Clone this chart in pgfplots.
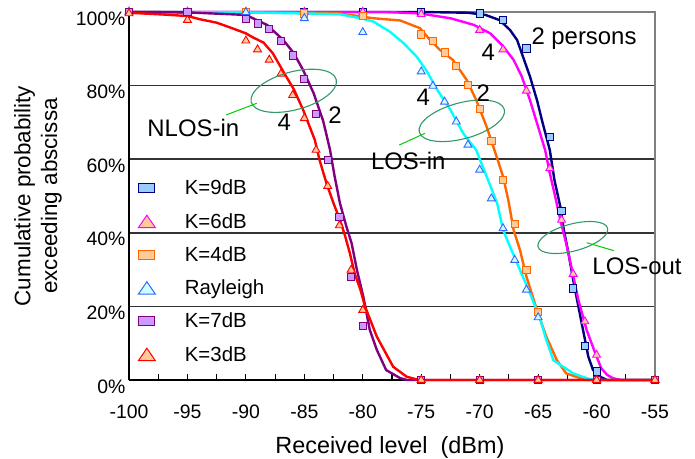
\documentclass[border=0pt]{standalone}
\usepackage{fontspec}
\setmainfont{Liberation Sans}
\usepackage{pgfplots}
\pgfplotsset{compat=1.18}

\definecolor{cNavy}{HTML}{000080}
\definecolor{cMag}{HTML}{FF00FF}
\definecolor{cOrange}{HTML}{FF6600}
\definecolor{cCyan}{HTML}{00FFFF}
\definecolor{cPurple}{HTML}{800080}
\definecolor{cRed}{HTML}{FF0000}
\definecolor{cBlue}{HTML}{3366FF}
\definecolor{fBlue}{HTML}{99CCFF}
\definecolor{fPeach}{HTML}{FFCC99}
\definecolor{fCyan}{HTML}{CCFFFF}
\definecolor{fLilac}{HTML}{CC99FF}
\definecolor{cEll}{HTML}{339966}
\definecolor{cLead}{HTML}{00CC00}

\pgfplotsset{
  meas/.style={no marks, line width=2.4bp, forget plot},
  sqmark/.style 2 args={only marks, mark=square*, mark size=3.6bp,
    mark options={draw=#1, fill=#2, line width=0.9bp, solid},
    legend image code/.code={\draw[draw=#1, fill=#2, line width=1bp] (0bp,-4.5bp) rectangle (16bp,4.5bp);}},
  trimark/.style 2 args={only marks, mark=triangle*, mark size=4.6bp,
    mark options={draw=#1, fill=#2, line width=0.9bp, solid},
    legend image code/.code={\draw[draw=#1, fill=#2, line width=1bp] (0bp,-6bp) -- (17bp,-6bp) -- (8.5bp,6.5bp) -- cycle;}},
}

\begin{document}
\begin{tikzpicture}
\useasboundingbox (-129bp,-79bp) rectangle (566bp,380bp);
\begin{axis}[
  at={(0,0)}, anchor=south west,
  scale only axis, width=526bp, height=368bp,
  xmin=-100, xmax=-55, ymin=0, ymax=100,
  clip=false,
  axis x line*=bottom, axis y line*=left,
  axis line style={black, line width=1.7bp},
  xtick={-100,-95,...,-55},
  minor xtick={-97.5,-92.5,...,-57.5},
  tick align=inside,
  major tick length=6bp, minor tick length=6bp,
  xtick style={black, line width=1.2bp},
  ytick={20,40,60,80},
  extra y ticks={0,100},
  extra y tick style={grid=none},
  ytick style={draw=none},
  ymajorgrids,
  grid style={black!80, line width=1.6bp},
  yticklabel={\pgfmathprintnumber{\tick}\%},
  /pgf/number format/assume math mode=true,
  ticklabel style={font=\fontsize{19.5}{22}\selectfont},
  xticklabel style={anchor=base, yshift=-38bp},
  yticklabel style={yshift=-6.5bp},
  xlabel={Received level\ \ (dBm)},
  xlabel style={at={(axis description cs:0.496,-0.1984)}, anchor=base, font=\fontsize{23.5}{26}\selectfont},
  ylabel={Cumulative probability\\exceeding abscissa},
  ylabel style={at={(axis description cs:-0.173,0.5)}, anchor=center, align=center, font=\fontsize{22.5}{27}\selectfont},
  legend cell align=left,
  legend style={at={(axis description cs:0.0165,0.5394)}, anchor=north west,
    draw=none, fill=none, inner sep=0pt, row sep=20bp, column sep=29bp,
    nodes={inner sep=0pt, text height=13bp, text depth=0bp, font=\fontsize{20.5}{22}\selectfont}},
]
\draw[gray, line width=1.5bp] (rel axis cs:0,1) -- (rel axis cs:1,1) -- (rel axis cs:1,0);

% measured curves
\addplot[meas, cNavy] coordinates {
(-100,100) (-75,100) (-71,99.8) (-70.5,99.6) (-69.5,99.2) (-68.3,97.8) (-67.4,95.1)
(-66.8,92.4) (-66.3,87.9) (-65.7,82.5) (-65.1,76.1) (-64.6,69.7) (-64.0,62.5) (-63.6,54.3)
(-63.1,47.1) (-62.8,40.8) (-62.4,34.4) (-62.0,27.2) (-61.55,19.9) (-61.1,12.7) (-60.7,6.3)
(-60.3,2.7) (-59.7,0.9) (-59.1,0) (-55,0)};
\addplot[meas, cMag] coordinates {
(-100,100) (-78,100) (-75.1,99.6) (-72.5,98.3) (-70.5,96.5) (-69.1,94.2) (-68.0,90.7)
(-67.1,87.0) (-66.4,82.5) (-65.7,76.1) (-65.0,68.8) (-64.4,62.5) (-64.0,56.2) (-63.6,50.7)
(-63.1,43.5) (-62.6,37.1) (-62.1,29.9) (-61.55,21.7) (-60.85,13.6) (-60.1,7.2) (-59.6,3.2)
(-59.1,1.4) (-58.6,0.5) (-57.9,0) (-55,0)};
\addplot[meas, cOrange] coordinates {
(-100,100) (-85,99.8) (-82,99.6) (-79.1,98.3) (-76.8,97.7) (-75.1,95.6) (-74.25,92.4)
(-73.4,89.7) (-72.3,87.0) (-71.1,81.5) (-70.3,76.1) (-69.4,68.8) (-68.55,60.7) (-68.0,55.3)
(-67.55,48.9) (-67.1,40.8) (-66.55,35.3) (-66.0,28.1) (-65.1,19.0) (-64.3,11.8) (-63.4,5.4)
(-62.6,1.8) (-61.4,0.5) (-60.7,0) (-55,0)};
\addplot[meas, cCyan] coordinates {
(-100,100) (-90,99.9) (-85,99.6) (-82,99.4) (-80,98.2) (-79.1,97.4) (-77.7,94.7) (-76.5,91.5)
(-75.4,87.9) (-74.5,83.8) (-73.7,79.2) (-72.5,73.4) (-71.4,67.0) (-70.3,62.5) (-69.4,55.3)
(-68.5,48.0) (-68.0,40.8) (-67.4,36.2) (-66.55,29.9) (-65.7,23.6) (-64.8,16.3) (-64.3,10.9)
(-63.7,5.4) (-63.1,4.1) (-62.0,1.8) (-60.85,0.5) (-60.2,0) (-55,0)};
\addplot[meas, cPurple] coordinates {
(-100,100) (-95,99.9) (-90,99.2) (-88.2,96.5) (-86.8,92.4) (-85.9,88.8) (-85.1,84.2)
(-84.2,77.9) (-83.4,70.5) (-83.2,67.9) (-82.8,62.5) (-82.4,55.2) (-81.95,48.0) (-81.4,41.7)
(-80.95,37.1) (-80.5,29.9) (-79.95,22.6) (-79.4,13.6) (-78.8,8.2) (-78.0,2.7) (-76.8,0.5)
(-76.2,0) (-55,0)};
\addplot[meas, cRed] coordinates {
(-100,99.8) (-97,99.3) (-95,98.9) (-93.9,98.0) (-92.5,97.1) (-91.1,95.5) (-90,94.2)
(-89.4,93.1) (-88.5,91.7) (-87.7,88.8) (-86.8,83.8) (-85.9,79) (-85.1,73.4) (-84.1,65.2)
(-83.7,59.8) (-83.1,53.4) (-82.5,48) (-81.95,43.5) (-81.5,39) (-81.1,34.4) (-80.7,29)
(-80.2,24.5) (-79.8,19.9) (-78.8,11.8) (-77.4,3.6) (-76.25,0.9) (-75.2,0) (-55,0)};

% theoretical points
\addplot[sqmark={cNavy}{fBlue}] coordinates {
(-100,100) (-95,100) (-90,100) (-85,100) (-80,100) (-75,100) (-70,99.6) (-68,97.8)
(-66,90.1) (-64,66.1) (-63,45.9) (-62,24.9) (-61,9.2) (-60,2.3) (-55,0)};
\addlegendentry{K=9dB}
\addplot[trimark={cMag}{fPeach}] coordinates {
(-100,100) (-95,100) (-90,100) (-85,100) (-80,100) (-75,99.4) (-70,95.1) (-68,89.8)
(-66,78.6) (-64,57.5) (-63,43.5) (-62,28.8) (-61,15.9) (-60,6.8) (-55,0)};
\addlegendentry{K=6dB}
\addplot[sqmark={cOrange}{fPeach}] coordinates {
(-100,100) (-95,100) (-90,100) (-85,99.6) (-80,98.9) (-75,93.9) (-74,92.2) (-73,89.0)
(-72,85.3) (-71,80.2) (-70,73.6) (-69,65.0) (-68,54.3) (-67,42.4) (-66,29.9) (-65,18.4)
(-60,0) (-55,0)};
\addlegendentry{K=4dB}
\addplot[trimark={cBlue}{fCyan}] coordinates {
(-100,100) (-95,100) (-90,99.9) (-85,98.3) (-80,94.5) (-75,83.8) (-74,79.9) (-73,75.6)
(-72,70.2) (-71,63.9) (-70,57.1) (-69,49.3) (-68,41.2) (-67,32.6) (-66,24.5) (-65,17.0)
(-60,0) (-55,0)};
\addlegendentry{Rayleigh}
\addplot[sqmark={cPurple}{fLilac}] coordinates {
(-100,100) (-95,100) (-90,98.1) (-89,96.9) (-88,95.3) (-87,92.2) (-86,88.2) (-85,81.7)
(-84,72.2) (-83,59.7) (-82,44.4) (-81,28.1) (-80,14.7) (-75,0) (-70,0) (-65,0) (-60,0) (-55,0)};
\addlegendentry{K=7dB}
\addplot[trimark={cRed}{fPeach}] coordinates {
(-100,99.6) (-95,97.8) (-90,92.2) (-89,89.8) (-88,87) (-87,83.2) (-86,77.4) (-85,71.1)
(-84,62.5) (-83,52.7) (-82,42) (-81,29.9) (-80,19) (-75,0) (-70,0) (-65,0) (-60,0) (-55,0)};
\addlegendentry{K=3dB}
\end{axis}

% annotations (axis box corner at origin, 1bp = 1px)
\draw[cEll, line width=1.1bp, rotate around={15:(164.7bp,289.2bp)}] (164.7bp,289.2bp) ellipse (44bp and 19bp);
\draw[cEll, line width=1.1bp, rotate around={15:(332.8bp,259.2bp)}] (332.8bp,259.2bp) ellipse (44bp and 18bp);
\draw[cEll, line width=1.1bp, rotate around={15:(443.8bp,142.5bp)}] (443.8bp,142.5bp) ellipse (36bp and 13.5bp);
\draw[cLead, line width=1bp] (97bp,265bp) -- (127.7bp,276.7bp);
\draw[cLead, line width=1bp] (270.3bp,235bp) -- (296bp,246.7bp);
\draw[cLead, line width=1bp] (457.7bp,137.3bp) -- (485bp,129.3bp);
\begin{scope}[every node/.style={font=\fontsize{24}{26}\selectfont, inner sep=0pt, anchor=base}]
\node at (64.3bp,243.3bp) {NLOS-in};
\node at (155.3bp,249.7bp) {4};
\node at (206bp,256.4bp) {2};
\node at (279.3bp,210bp) {LOS-in};
\node at (294.3bp,274.7bp) {4};
\node at (354.3bp,278.1bp) {2};
\node at (508bp,105bp) {LOS-out};
\node at (359.3bp,319.7bp) {4};
\node at (455bp,335bp) {2 persons};
\end{scope}
\end{tikzpicture}
\end{document}
